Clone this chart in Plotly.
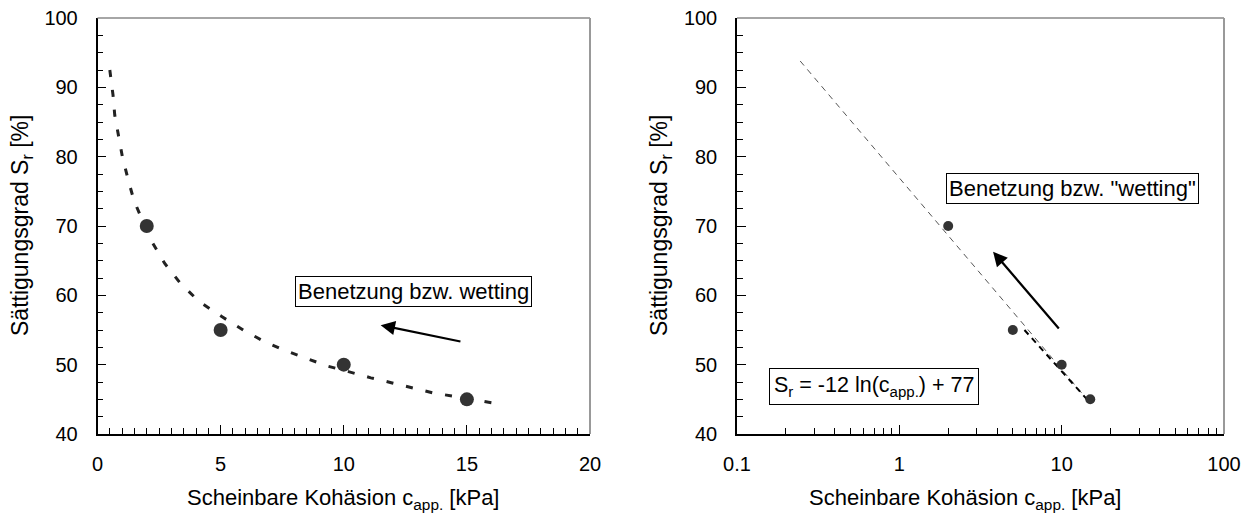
import plotly.graph_objects as go
import math

# ---- data ----
c_app = [2, 5, 10, 15]
sr = [70, 55, 50, 45]

# fitted curve (left, linear x)
fit_x = [0.50, 0.63, 0.70, 0.86, 1.01, 1.25, 1.48, 2.0, 2.23, 2.73, 3.35, 4.13, 5.06, 5.92,
         6.74, 7.58, 8.48, 9.33, 10.19, 11.1, 11.93, 12.79, 13.66, 14.55, 15.41, 16.34]
fit_y = [92.5, 88.9, 86.0, 82.9, 80.0, 76.6, 73.7, 69.3, 67.6, 64.6, 61.8, 59.1, 56.9, 55.0,
         53.4, 52.1, 50.9, 49.8, 49.0, 48.1, 47.4, 46.7, 45.9, 45.4, 44.9, 44.3]

# log trend line (right)
trend_x = [0.245, 14.7]
trend_y = [93.8, 44.7]
trend2_x = [5.9, 14.7]
trend2_y = [55.0, 44.7]

x_ticks_lin = [0, 5, 10, 15, 20]
x_ticks_log = [0.1, 1, 10, 100]
x_ticktext_log = ["0.1", "1", "10", "100"]
y_ticks = [40, 50, 60, 70, 80, 90, 100]

FONT = "Arial, Liberation Sans, sans-serif"
OFF = 8  # page body margin
W, H = 1250 - OFF, 517 - OFF


def px(xp):
    return (xp - OFF) / W


def py(yp):
    return (H - (yp - OFF)) / H


fig = go.Figure()

fig.add_trace(go.Scatter(x=fit_x, y=fit_y, mode="lines", xaxis="x", yaxis="y",
                         line=dict(color="#222222", width=3, dash="7px,13px"), showlegend=False))
fig.add_trace(go.Scatter(x=c_app, y=sr, mode="markers", xaxis="x", yaxis="y",
                         marker=dict(color="#333333", size=14), showlegend=False))

fig.add_trace(go.Scatter(x=trend_x, y=trend_y, mode="lines", xaxis="x2", yaxis="y2",
                         line=dict(color="#555555", width=1, dash="6px,5px"), showlegend=False))
fig.add_trace(go.Scatter(x=trend2_x, y=trend2_y, mode="lines", xaxis="x2", yaxis="y2",
                         line=dict(color="#000000", width=2, dash="6px,5px"), showlegend=False))
fig.add_trace(go.Scatter(x=c_app, y=sr, mode="markers", xaxis="x2", yaxis="y2",
                         marker=dict(color="#333333", size=10), showlegend=False))

# geometry (reference pixels)
ybot, ytop = py(434), py(18)
xl0, xl1 = px(97.5), px(590)
xr0, xr1 = px(737), px(1224)

tickfont = dict(family=FONT, size=20, color="black")

common_y = dict(range=[40, 100], tickvals=y_ticks, ticks="inside", ticklen=9, tickwidth=1.2,
                tickcolor="black", showline=True, linecolor="black", linewidth=1.5,
                showgrid=False, zeroline=False, tickfont=tickfont, ticklabelstandoff=14,
                automargin=False, ticklabeloverflow="allow",
                minor=dict(ticks="inside", dtick=2.5, ticklen=6, tickcolor="black", tickwidth=1))

fig.update_layout(
    width=W, height=H, margin=dict(l=0, r=0, t=0, b=0, autoexpand=False),
    paper_bgcolor="white", plot_bgcolor="white",
    xaxis=dict(domain=[xl0, xl1], range=[0, 20], tickvals=x_ticks_lin, ticks="inside",
               ticklen=9, tickwidth=1.2, tickcolor="black", showline=True, linecolor="black",
               linewidth=1.5, showgrid=False, zeroline=False, tickfont=tickfont,
               ticklabelstandoff=11, anchor="y", automargin=False, ticklabeloverflow="allow",
               minor=dict(ticks="inside", dtick=0.5, ticklen=6, tickcolor="black", tickwidth=1)),
    yaxis=dict(domain=[ybot, ytop], anchor="x", **common_y),
    xaxis2=dict(domain=[xr0, xr1], type="log", range=[-1, 2], tickvals=x_ticks_log,
                ticktext=x_ticktext_log, ticks="inside", ticklen=9, tickwidth=1.2,
                tickcolor="black", showline=True, linecolor="black", linewidth=1.5,
                showgrid=False, zeroline=False, tickfont=tickfont, ticklabelstandoff=11,
                anchor="y2", automargin=False, ticklabeloverflow="allow",
                minor=dict(ticks="inside", tickvals=[m * 10 ** e for e in (-1, 0, 1) for m in range(2, 10)],
                           ticklen=6, tickcolor="black", tickwidth=1)),
    yaxis2=dict(domain=[ybot, ytop], anchor="x2", **common_y),
)

# grey top/right frames (paper refs so they are not clipped)
shapes = []
for x0, x1 in ((xl0, xl1), (xr0, xr1)):
    shapes.append(dict(type="line", xref="paper", yref="paper", x0=x0, x1=x1, y0=ytop, y1=ytop,
                       line=dict(color="#888888", width=1.5)))
    shapes.append(dict(type="line", xref="paper", yref="paper", x0=x1, x1=x1, y0=ybot, y1=ytop,
                       line=dict(color="#999999", width=2)))
fig.update_layout(shapes=shapes)

ann = []
titlefont = dict(family=FONT, size=22, color="black")
ytitlefont = dict(family=FONT, size=23, color="black")
boxfont = dict(family=FONT, size=22, color="black")
# axis titles
ann.append(dict(xref="paper", yref="paper", x=px(21), y=py(226), textangle=-90,
                text="Sättigungsgrad S<sub>r</sub> [%]", showarrow=False, font=ytitlefont,
                xanchor="center", yanchor="middle"))
ann.append(dict(xref="paper", yref="paper", x=px(660), y=py(226), textangle=-90,
                text="Sättigungsgrad S<sub>r</sub> [%]", showarrow=False, font=ytitlefont,
                xanchor="center", yanchor="middle"))
ann.append(dict(xref="paper", yref="paper", x=px(343), y=py(499),
                text="Scheinbare Kohäsion c<sub>app.</sub> [kPa]", showarrow=False,
                font=titlefont, xanchor="center", yanchor="middle"))
ann.append(dict(xref="paper", yref="paper", x=px(965), y=py(499),
                text="Scheinbare Kohäsion c<sub>app.</sub> [kPa]", showarrow=False,
                font=titlefont, xanchor="center", yanchor="middle"))

# text boxes
ann.append(dict(xref="x", yref="y", x=12.85, y=60.6, text="Benetzung bzw. wetting",
                showarrow=False, font=boxfont, bordercolor="black", borderwidth=1,
                bgcolor="white", borderpad=2))
ann.append(dict(xref="x2", yref="y2", x=math.log10(11.6), y=75.4,
                text="Benetzung bzw. \"wetting\"", showarrow=False, font=boxfont,
                bordercolor="black", borderwidth=1, bgcolor="white", borderpad=2))
ann.append(dict(xref="x2", yref="y2", x=math.log10(0.698), y=46.9,
                text="S<sub>r</sub> = -12 ln(c<sub>app.</sub>) + 77", showarrow=False,
                font=dict(family=FONT, size=21.5, color="black"), bordercolor="black",
                borderwidth=1, bgcolor="white", borderpad=4))

# arrows
ann.append(dict(xref="x", yref="y", axref="x", ayref="y", x=11.5, y=55.7, ax=14.8, ay=53.3,
                text="", showarrow=True, arrowhead=2, arrowsize=1.3, arrowwidth=2.2,
                arrowcolor="black"))
ann.append(dict(xref="x2", yref="y2", axref="x2", ayref="y2", x=math.log10(3.78), y=66.3,
                ax=math.log10(9.78), ay=55.0, text="", showarrow=True, arrowhead=2,
                arrowsize=1.3, arrowwidth=2.2, arrowcolor="black"))
fig.update_layout(annotations=ann)

fig.write_html("out.html")
